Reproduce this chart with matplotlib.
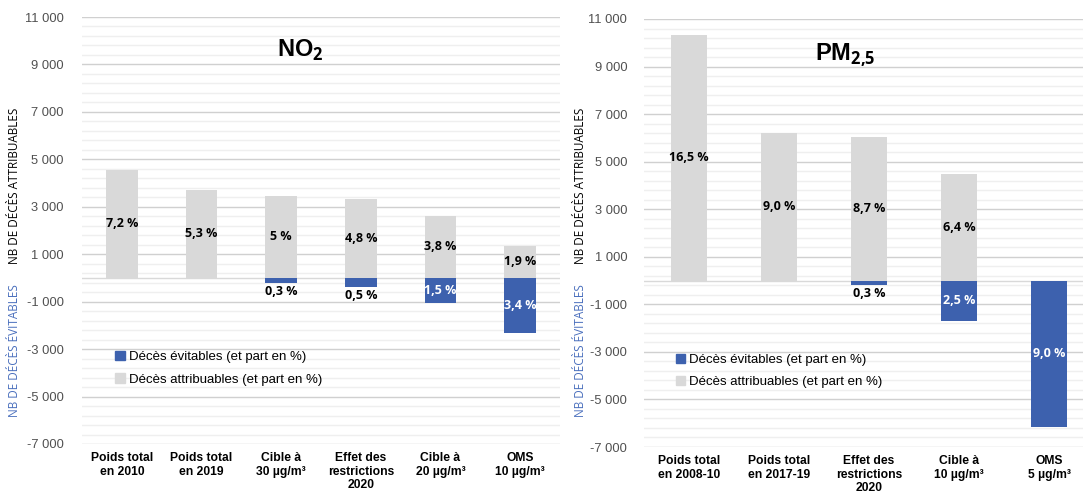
import matplotlib.pyplot as plt
from matplotlib.patches import Patch
from matplotlib.ticker import FuncFormatter

plt.rcParams['font.family'] = ['Liberation Sans', 'DejaVu Sans']
plt.rcParams['mathtext.fontset'] = 'custom'
plt.rcParams['mathtext.bf'] = 'Open Sans:bold'
plt.rcParams['mathtext.rm'] = 'Open Sans:bold'

# NO2 panel
no2_cats = ['Poids total\nen 2010', 'Poids total\nen 2019', 'Cible à\n30 µg/m³',
            'Effet des\nrestrictions\n2020', 'Cible à\n20 µg/m³', 'OMS\n10 µg/m³']
no2_attr = [4560, 3710, 3460, 3330, 2620, 1350]
no2_attr_pct = ['7,2 %', '5,3 %', '5 %', '4,8 %', '3,8 %', '1,9 %']
no2_evit = [0, 0, -210, -380, -1050, -2320]
no2_evit_pct = ['', '', '0,3 %', '0,5 %', '1,5 %', '3,4 %']

# PM2.5 panel
pm_cats = ['Poids total\nen 2008-10', 'Poids total\nen 2017-19', 'Effet des\nrestrictions\n2020',
           'Cible à\n10 µg/m³', 'OMS\n5 µg/m³']
pm_attr = [10330, 6210, 6040, 4480, 0]
pm_attr_pct = ['16,5 %', '9,0 %', '8,7 %', '6,4 %', '']
pm_evit = [0, 0, -190, -1700, -6150]
pm_evit_pct = ['', '', '0,3 %', '2,5 %', '9,0 %']

GRAY = '#d9d9d9'
BLUE = '#3d61ae'
LBLUE = '#4a6fbd'

W, H = 1083, 496
fig = plt.figure(figsize=(W / 100, H / 100), dpi=100)


def fx(px):
    return px / W


def fy(py):
    return 1 - py / H


def fmt(v, pos):
    s = f'{abs(int(v)):,}'.replace(',', ' ')
    return ('-' if v < 0 else '') + s


def panel(rect, cats, attr, attr_pct, evit, evit_pct, title, title_xy, pad):
    ax = fig.add_axes(rect)
    x = range(len(cats))
    ax.bar(x, attr, width=0.4, color=GRAY, zorder=3)
    ax.bar(x, evit, width=0.4, color=BLUE, zorder=3)
    for i in x:
        if attr_pct[i]:
            ax.text(i, attr[i] / 2, attr_pct[i], ha='center', va='center',
                    fontsize=9, fontweight='bold', family='Open Sans', zorder=4)
        if evit_pct[i]:
            if abs(evit[i]) < 600:
                ax.text(i, evit[i] - 80, evit_pct[i], ha='center', va='top',
                        fontsize=9, fontweight='bold', family='Open Sans', zorder=4)
            else:
                ax.text(i, evit[i] / 2, evit_pct[i], ha='center', va='center', color='white',
                        fontsize=9, fontweight='bold', family='Open Sans', zorder=4)
    ax.set_ylim(-7000, 11000)
    ax.set_xlim(-0.5, len(cats) - 0.5)
    ax.set_yticks(range(-7000, 11001, 2000))
    ax.set_yticks(range(-7000, 11001, 400), minor=True)
    ax.yaxis.set_major_formatter(FuncFormatter(fmt))
    ax.grid(axis='y', which='major', color='#d0d0d0', lw=1, zorder=0)
    ax.grid(axis='y', which='minor', color='#efefef', lw=1, zorder=0)
    ax.axhline(0, color='#d9d9d9', lw=1, zorder=2)
    ax.set_xticks(list(x))
    ax.set_xticklabels(cats, fontweight='bold', fontsize=8.7, linespacing=1.15)
    ax.tick_params(axis='both', which='both', length=0)
    ax.tick_params(axis='y', labelsize=9.3, labelcolor='#505050', pad=pad)
    ax.tick_params(axis='x', pad=6)
    for s in ax.spines.values():
        s.set_visible(False)
    fig.text(fx(title_xy[0]), fy(title_xy[1]), title, fontsize=17, fontweight='bold',
             ha='center', va='center')
    ax.legend(handles=[Patch(color=BLUE, label='Décès évitables (et part en %)'),
                       Patch(color=GRAY, label='Décès attribuables (et part en %)')],
              loc='upper left', bbox_to_anchor=(0.045, 0.245), frameon=False, fontsize=9.5,
              handlelength=0.7, handleheight=0.7, handletextpad=0.3, labelspacing=0.75)
    return ax


panel([fx(82), 1 - 444 / H, fx(560 - 82), 427 / H], no2_cats, no2_attr, no2_attr_pct,
      no2_evit, no2_evit_pct, r'NO$_\mathbf{2}$', (300, 50), 13)
panel([fx(644), 1 - 447 / H, fx(1094 - 644), 428 / H], pm_cats, pm_attr, pm_attr_pct,
      pm_evit, pm_evit_pct, r'PM$_\mathbf{2{,}5}$', (845, 55), 12)

for xp in (15, 580):
    fig.text(fx(xp), fy(186), 'NB DE DÉCÈS ATTRIBUABLES', rotation=90, ha='center',
             va='center', fontsize=8.5, family='Open Sans')
    fig.text(fx(xp), fy(351), 'NB DE DÉCÈS ÉVITABLES', rotation=90, ha='center',
             va='center', fontsize=8.5, family='Open Sans', color=LBLUE)

fig.savefig('out.png', dpi=100)
